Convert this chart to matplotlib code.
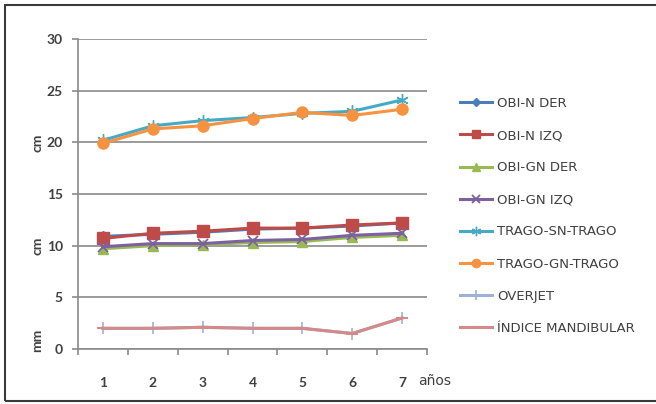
import matplotlib
matplotlib.use("Agg")
import matplotlib.pyplot as plt
from matplotlib.patches import Rectangle
from matplotlib.transforms import blended_transform_factory

plt.rcParams['font.family'] = ['Lato', 'DejaVu Sans']

# Age in years
years = [1, 2, 3, 4, 5, 6, 7]
year_labels = ['1', '2', '3', '4', '5', '6', '7']

obi_n_der = [10.9, 11.1, 11.3, 11.6, 11.7, 11.9, 12.2]
obi_n_izq = [10.7, 11.2, 11.4, 11.7, 11.7, 12.0, 12.2]
obi_gn_der = [9.7, 10.0, 10.1, 10.3, 10.4, 10.8, 11.0]
obi_gn_izq = [9.9, 10.2, 10.2, 10.5, 10.6, 11.0, 11.2]
trago_sn_trago = [20.2, 21.6, 22.1, 22.4, 22.8, 23.0, 24.1]
trago_gn_trago = [19.9, 21.3, 21.6, 22.3, 22.9, 22.6, 23.2]
overjet = [2.0, 2.0, 2.1, 2.0, 2.0, 1.5, 3.0]
indice_mandibular = [2.0, 2.0, 2.1, 2.0, 2.0, 1.5, 3.0]

y_ticks = [0, 5, 10, 15, 20, 25, 30]

series = [
    ("OBI-N DER", obi_n_der, dict(color="#4A7EBB", marker="D", markersize=5.5)),
    ("OBI-N IZQ", obi_n_izq, dict(color="#BE4B48", marker="s", markersize=8)),
    ("OBI-GN DER", obi_gn_der, dict(color="#98B954", marker="^", markersize=7)),
    ("OBI-GN IZQ", obi_gn_izq, dict(color="#7D60A0", marker="x", markersize=7, markeredgewidth=1.3)),
    ("TRAGO-SN-TRAGO", trago_sn_trago, dict(color="#46AAC5", marker=(6, 2, 0), markersize=9, markeredgewidth=1.0)),
    ("TRAGO-GN-TRAGO", trago_gn_trago, dict(color="#F69240", marker="o", markersize=8)),
    ("OVERJET", overjet, dict(color="#9DB2D8", marker="+", markersize=9, markeredgewidth=1.2)),
    ("ÍNDICE MANDIBULAR", indice_mandibular, dict(color="#D4898B", marker="_", markersize=8, markeredgewidth=1.5)),
]

W, H = 656, 404
fig = plt.figure(figsize=(W / 100, H / 100), dpi=100)
fig.patch.set_facecolor("white")

# outer frame (its right side runs off the canvas)
fig.patches.append(Rectangle((5 / W, 3 / H), 660 / W, 396 / H, transform=fig.transFigure,
                             fill=False, edgecolor="#3a3a3a", linewidth=1.5))

x0, x1 = 78, 427
y_top, y_bot = 39, 349
ax = fig.add_axes([x0 / W, 1 - y_bot / H, (x1 - x0) / W, (y_bot - y_top) / H])

for label, vals, style in series:
    ax.plot(years, vals, label=label, linewidth=2.2, markeredgecolor=style["color"], **style)

ax.set_xlim(0.5, 7.5)
ax.set_ylim(0, 30)

grid_color = "#8a8a8a"
ax.set_yticks(y_ticks)
ax.yaxis.grid(True, color=grid_color, linewidth=1.2)
ax.set_axisbelow(True)
for s in ("top", "right"):
    ax.spines[s].set_visible(False)
for s in ("left", "bottom"):
    ax.spines[s].set_color(grid_color)
    ax.spines[s].set_linewidth(1.2)

ax.tick_params(axis="y", length=4, width=1.2, color=grid_color, pad=7,
               labelsize=10, labelcolor="#404040")

# category axis: ticks between categories, labels centred on them
ax.set_xticks([i + 0.5 for i in range(0, 8)])
ax.set_xticklabels([])
ax.tick_params(axis="x", which="major", length=4, width=1.2, color=grid_color)
ax.set_xticks(years, minor=True)
ax.set_xticklabels(year_labels, minor=True)
ax.tick_params(axis="x", which="minor", length=0, pad=20, labelsize=10, labelcolor="#404040")
for t in ax.get_yticklabels() + ax.get_xticklabels(minor=True):
    t.set_fontweight("bold")

ax.text(7.32, -3.1, "años", fontsize=10, color="#404040", ha="left", va="center",
        family=["DejaVu Sans"])

# unit labels along the value axis
tr = blended_transform_factory(fig.transFigure, ax.transData)
for txt, yv in [("cm", 20), ("cm", 10), ("mm", 0.8)]:
    ax.text(37 / W, yv, txt, transform=tr, rotation=90, fontsize=10, fontweight="bold",
            color="#404040", ha="center", va="center")

leg = ax.legend(loc="upper left", bbox_to_anchor=(448 / W, 1 - 85 / H),
                bbox_transform=fig.transFigure, frameon=False,
                prop={"family": "DejaVu Sans", "size": 9.5},
                handlelength=2.4, handletextpad=0.4, labelspacing=1.45, markerscale=0.75)
for t in leg.get_texts():
    t.set_color("#404040")

fig.savefig("out.png", dpi=100, facecolor="white")
